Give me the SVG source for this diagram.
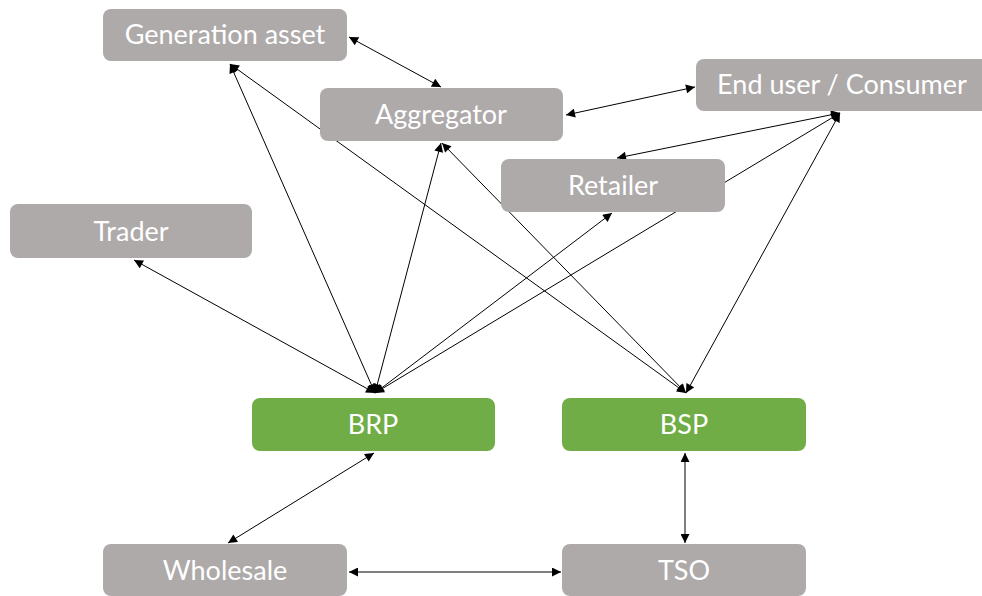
<svg xmlns="http://www.w3.org/2000/svg" width="982" height="596" viewBox="0 0 982 596">
<defs>
<style>
.n{fill:#AEAAAA}
.g{fill:#70AD47}
.t{fill:#fff;font-family:Lato,"Open Sans",sans-serif;font-size:27px;text-anchor:middle}
.c line{stroke:#000;stroke-width:1;marker-start:url(#a);marker-end:url(#a)}
</style>
<marker id="a" viewBox="0 0 10 10" refX="10" refY="5" markerWidth="10" markerHeight="9" markerUnits="userSpaceOnUse" orient="auto-start-reverse">
<path d="M0,0L10,5L0,10z" fill="#000"/>
</marker>
</defs>
<rect width="982" height="596" fill="#fff"/>
<g id="connectors" class="c">
<line x1="230" y1="64" x2="686" y2="393"/>
<line x1="375" y1="393" x2="840" y2="113"/>
<line x1="349" y1="37" x2="441" y2="87"/>
<line x1="566" y1="115" x2="695" y2="87"/>
<line x1="840" y1="113" x2="617" y2="158"/>
<line x1="686" y1="393" x2="840" y2="113"/>
<line x1="375" y1="393" x2="230" y2="64"/>
<line x1="375" y1="393" x2="441" y2="143"/>
<line x1="686" y1="393" x2="442" y2="143"/>
<line x1="375" y1="393" x2="612" y2="213"/>
<line x1="375" y1="393" x2="134" y2="260"/>
<line x1="374" y1="453" x2="228" y2="543"/>
<line x1="349" y1="572" x2="561" y2="572"/>
<line x1="685" y1="453" x2="685" y2="543"/>
</g>
<g id="gen"><rect class="n" x="103" y="9" width="244" height="52" rx="8"/><text class="t" x="225" y="44">Generation asset</text></g>
<g id="agg"><rect class="n" x="320" y="88" width="243" height="53" rx="8"/><text class="t" x="441" y="124">Aggregator</text></g>
<g id="enduser"><rect class="n" x="696" y="59" width="300" height="52" rx="8"/><text class="t" x="842" y="94">End user / Consumer</text></g>
<g id="retailer"><rect class="n" x="501" y="159" width="224" height="53" rx="8"/><text class="t" x="613" y="195">Retailer</text></g>
<g id="trader"><rect class="n" x="10" y="204" width="242" height="54" rx="8"/><text class="t" x="131" y="241">Trader</text></g>
<g id="brp"><rect class="g" x="252" y="398" width="243" height="53" rx="8"/><text class="t" x="373" y="434">BRP</text></g>
<g id="bsp"><rect class="g" x="562" y="398" width="244" height="53" rx="8"/><text class="t" x="684" y="434">BSP</text></g>
<g id="wholesale"><rect class="n" x="103" y="544" width="244" height="52" rx="8"/><text class="t" x="225" y="580">Wholesale</text></g>
<g id="tso"><rect class="n" x="562" y="544" width="244" height="52" rx="8"/><text class="t" x="684" y="580">TSO</text></g>
</svg>
